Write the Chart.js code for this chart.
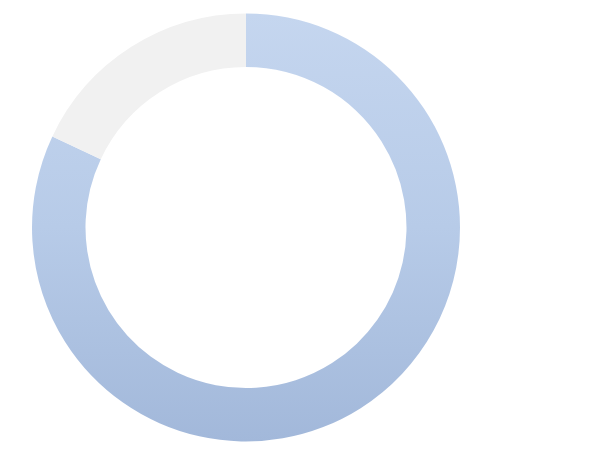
<!DOCTYPE html>
<html>
<head>
<meta charset="utf-8">
<script src="https://cdn.jsdelivr.net/npm/chart.js@4"></script>
<style>
  html, body { margin: 0; padding: 0; background: #fff; }
  #wrap { width: 607px; height: 460px; }
</style>
</head>
<body>
<div id="wrap"><canvas id="myChart"></canvas></div>
<script>
const categories = ['Filled', 'Remaining'];
const values = [82, 18];

const ctx = document.getElementById('myChart').getContext('2d');

// first slice gets a vertical blue gradient, second one stays flat grey
function sliceColor(context) {
  if (context.dataIndex === 1) return '#f1f1f1';
  const area = context.chart.chartArea;
  if (!area) return '#b8cce8';
  const g = context.chart.ctx.createLinearGradient(0, area.top, 0, area.bottom);
  g.addColorStop(0, '#c5d6ef');
  g.addColorStop(0.5, '#b7cbe8');
  g.addColorStop(1, '#a2b8da');
  return g;
}

const myChart = new Chart(ctx, {
  type: 'doughnut',
  data: {
    labels: categories,
    datasets: [{
      data: values,
      backgroundColor: sliceColor,
      borderWidth: 0
    }]
  },
  options: {
    responsive: true,
    maintainAspectRatio: false,
    animation: false,
    cutout: '75%',
    layout: {
      padding: { left: 32, right: 147, top: 13, bottom: 18 }
    },
    plugins: {
      legend: { display: false },
      tooltip: { enabled: false }
    }
  }
});
</script>
</body>
</html>
